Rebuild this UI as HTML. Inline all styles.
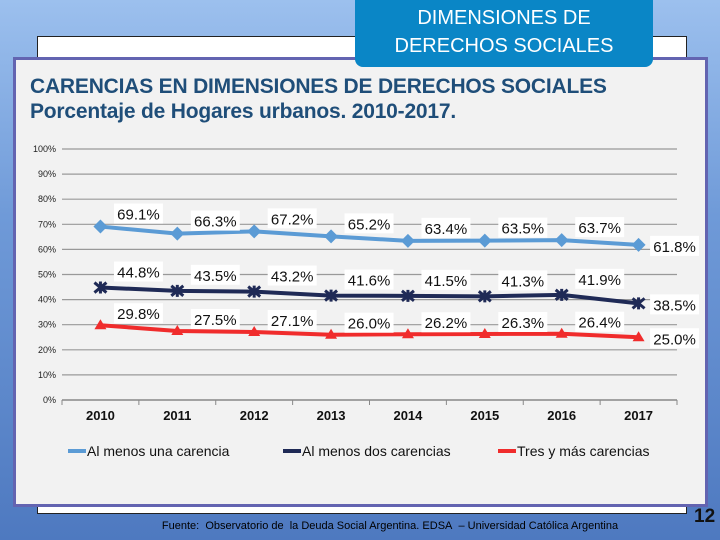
<!DOCTYPE html>
<html><head><meta charset="utf-8"><style>
body{margin:0;width:720px;height:540px;overflow:hidden;font-family:"Liberation Sans",sans-serif;}
#bg{position:absolute;left:0;top:0;width:720px;height:540px;background:linear-gradient(180deg,#9cc0ee 0%,#6f9ad8 40%,#4e79c0 100%);}
#whitebox{position:absolute;left:37px;top:36px;width:648px;height:476px;background:#fff;border:1px solid #222;}
#panel{position:absolute;left:13px;top:57px;width:689px;height:444px;background:#f2f2f2;border:3px solid #6364b1;}
#tab{position:absolute;left:355px;top:-8px;width:298px;height:75px;background:#0a86c6;border-radius:0 0 8px 8px;color:#fff;text-align:center;font-size:20px;line-height:28px;padding-top:12px;box-sizing:border-box;}
#title{position:absolute;left:30px;top:74px;color:#1f4e79;font-weight:bold;font-size:21px;line-height:25px;letter-spacing:-0.2px;}
#foot{position:absolute;left:0;width:720px;top:520px;text-align:center;font-size:11px;color:#000;padding-left:60px;box-sizing:border-box;}
#pg{position:absolute;left:694px;top:506px;font-size:19px;font-weight:bold;color:#111;}
svg{position:absolute;left:0;top:0;}
</style></head><body>
<div id="bg"></div>
<div id="whitebox"></div>
<div id="panel"></div>
<div id="tab">DIMENSIONES DE<br>DERECHOS SOCIALES</div>
<div id="title">CARENCIAS EN DIMENSIONES DE DERECHOS SOCIALES<br>Porcentaje de Hogares urbanos. 2010-2017.</div>
<svg id="chart" width="720" height="540"></svg>
<div id="foot">Fuente:&nbsp; Observatorio de&nbsp; la Deuda Social Argentina. EDSA&nbsp; – Universidad Católica Argentina</div>
<div id="pg">12</div>
<script>
const years=["2010","2011","2012","2013","2014","2015","2016","2017"];
const unaCarencia=[69.1,66.3,67.2,65.2,63.4,63.5,63.7,61.8];
const dosCarencias=[44.8,43.5,43.2,41.6,41.5,41.3,41.9,38.5];
const tresCarencias=[29.8,27.5,27.1,26.0,26.2,26.3,26.4,25.0];
const yTicks=[0,10,20,30,40,50,60,70,80,90,100];
const seriesNames=["Al menos una carencia","Al menos dos carencias","Tres y más carencias"];

const NS="http://www.w3.org/2000/svg";
const svg=document.getElementById('chart');
const x0=62,x1=677,y0=400,y1=149;
const step=(x1-x0)/years.length;
const X=i=>x0+step*(i+0.5);
const Y=v=>y0-(v/100)*(y0-y1);
function mk(t,a,p){const e=document.createElementNS(NS,t);for(const k in a)e.setAttribute(k,a[k]);(p||svg).appendChild(e);return e;}

yTicks.forEach(t=>{
  const g=mk('line',{x1:x0,x2:x1,y1:Y(t),y2:Y(t),stroke:t===0?'#888':'#999','stroke-width':t===0?1.5:1.2});
  
  
  const l=mk('text',{x:56,y:Y(t)+3,'text-anchor':'end','font-size':9,fill:'#222'});
  l.textContent=t+'%';
  
  
});
for(let i=0;i<=years.length;i++){
  const tk=mk('line',{x1:x0+step*i,x2:x0+step*i,y1:y0,y2:y0+5,stroke:'#888'});
  
  
}
years.forEach((yr,i)=>{
  const t=mk('text',{x:X(i),y:420,'text-anchor':'middle','font-size':13,'font-weight':'bold',fill:'#111'});
  t.textContent=yr;
  
  
});

const cfg=[
 {d:unaCarencia,c:'#5b9bd5',m:'diamond',dy:-12},
 {d:dosCarencias,c:'#1f2a56',m:'star',dy:-15},
 {d:tresCarencias,c:'#f02c2c',m:'tri',dy:-11}
];
cfg.forEach((s,si)=>{
  const pts=s.d.map((v,i)=>X(i)+','+Y(v)).join(' ');
  const pl=mk('polyline',{points:pts,fill:'none',stroke:s.c,'stroke-width':4});
  
  
  s.d.forEach((v,i)=>{
    const cx=X(i),cy=Y(v);let m;
    if(s.m==='diamond')m=mk('polygon',{points:`${cx},${cy-7} ${cx+7},${cy} ${cx},${cy+7} ${cx-7},${cy}`,fill:s.c});
    else if(s.m==='tri')m=mk('polygon',{points:`${cx},${cy-6} ${cx+6},${cy+4} ${cx-6},${cy+4}`,fill:s.c});
    else m=mk('path',{d:`M${cx-6} ${cy-5}L${cx+6} ${cy+5}M${cx+6} ${cy-5}L${cx-6} ${cy+5}M${cx} ${cy-6}V${cy+6}`,stroke:s.c,'stroke-width':3});
    
    
    const last=i===years.length-1;
    const lx=cx+(last?36:38), ly=cy+(last?2:s.dy);
    const txt=v.toFixed(1)+'%';
    const bw=txt.length*8.6+6;
    const r=mk('rect',{x:lx-bw/2,y:ly-11,width:bw,height:20,fill:'#fff'});
    
    
    const t=mk('text',{x:lx,y:ly+5,'text-anchor':'middle','font-size':15,fill:'#111'});
    t.textContent=txt;
    
    
  });
});
const legX=[68,283,498];
seriesNames.forEach((n,i)=>{
  const ln=mk('line',{x1:legX[i],x2:legX[i]+18,y1:451,y2:451,stroke:cfg[i].c,'stroke-width':4});
  
  
  const t=mk('text',{x:legX[i]+19,y:456,'font-size':14,fill:'#111'});
  t.textContent=n;
  
  
});
</script>
</body></html>
